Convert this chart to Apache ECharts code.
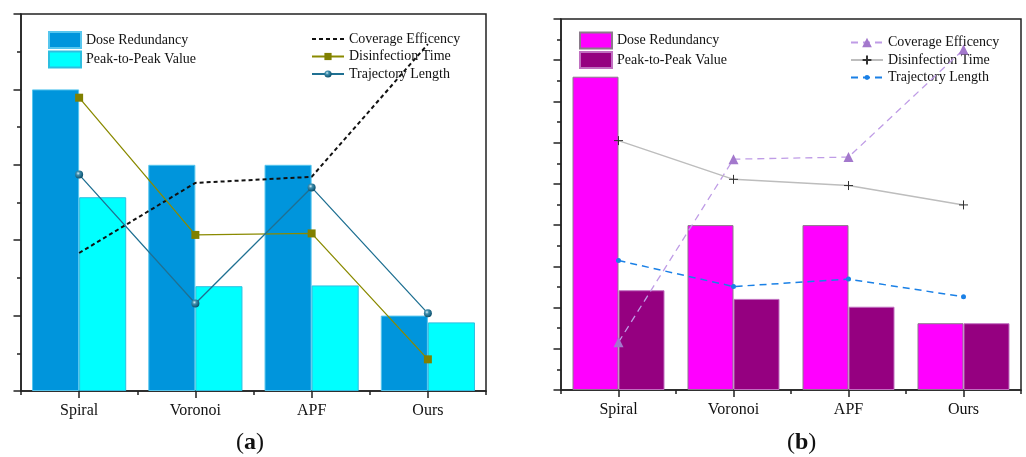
<!DOCTYPE html>
<html>
<head>
<meta charset="utf-8">
<script src="https://cdn.jsdelivr.net/npm/echarts@6/dist/echarts.min.js"></script>
<style>
  html, body { margin: 0; padding: 0; background: #fff; }
  #chart { width: 1026px; height: 457px; }
</style>
</head>
<body>
<div id="chart"></div>
<script>
// Methods compared on both panels
const categories = ['Spiral', 'Voronoi', 'APF', 'Ours'];

// Legend / series labels
const barLabels = ['Dose Redundancy', 'Peak-to-Peak Value'];
const lineLabels = ['Coverage Efficency', 'Disinfection Time', 'Trajectory Length'];
const panelTags = ['a', 'b'];

// Panel (a) values (axis units)
const aDoseRedundancy = [4.0, 3.0, 3.0, 1.0];
const aPeakToPeak = [2.57, 1.39, 1.40, 0.91];
const aCoverageEfficiency = [1.83, 2.76, 2.84, 4.60];
const aDisinfectionTime = [3.89, 2.07, 2.09, 0.42];
const aTrajectoryLength = [2.87, 1.16, 2.70, 1.03];

// Panel (b) values (axis units)
const bDoseRedundancy = [7.60, 4.00, 4.00, 1.62];
const bPeakToPeak = [2.42, 2.21, 2.02, 1.62];
const bCoverageEfficiency = [1.16, 5.60, 5.65, 8.26];
const bDisinfectionTime = [6.05, 5.11, 4.96, 4.49];
const bTrajectoryLength = [3.14, 2.51, 2.69, 2.26];

// Value-axis extents
const yMaxA = 5;
const yMaxB = 9;

const SERIF = 'Liberation Serif';
const INK = '#222';
const TEXT = '#111';

// Series names carry a panel prefix so the two legends stay independent.
const nm = (panel, label) => panel + ':' + label;
const stripName = n => n.slice(n.indexOf(':') + 1);

const axisLineStyle = { color: INK, width: 1.5 };

function xAxesFor(gridIndex) {
  return [
    {
      gridIndex, type: 'category', data: categories, position: 'bottom',
      axisLine: { show: true, lineStyle: axisLineStyle },
      axisTick: { show: true, alignWithLabel: true, length: 7, lineStyle: axisLineStyle },
      axisLabel: { fontFamily: SERIF, fontSize: 16, color: TEXT, margin: 12 },
      splitLine: { show: false }
    },
    {
      // short ticks on the category boundaries
      gridIndex, type: 'category', data: categories, position: 'bottom',
      axisLine: { show: false },
      axisTick: { show: true, length: 4, lineStyle: axisLineStyle },
      axisLabel: { show: false },
      splitLine: { show: false }
    }
  ];
}

function yAxisFor(gridIndex, max) {
  return {
    gridIndex, type: 'value', min: 0, max, interval: 1,
    axisLine: { show: true, lineStyle: axisLineStyle },
    axisTick: { show: true, length: 7.5, lineStyle: axisLineStyle },
    minorTick: { show: true, splitNumber: 2, length: 4, lineStyle: axisLineStyle },
    axisLabel: { show: false },
    splitLine: { show: false }
  };
}

const sphere = {
  type: 'radial', x: 0.38, y: 0.35, r: 0.65,
  colorStops: [
    { offset: 0, color: '#d8eef5' },
    { offset: 0.35, color: '#3f8fae' },
    { offset: 1, color: '#0c4f6c' }
  ]
};

const plusPath = 'path://M0,5H10M5,0V10';

const series = [
  // ---- panel (a)
  {
    name: nm('a', barLabels[0]), type: 'bar', xAxisIndex: 0, yAxisIndex: 0,
    data: aDoseRedundancy, barGap: '0%', barCategoryGap: '19%',
    itemStyle: { color: '#0095dc', borderColor: '#56c6ee', borderWidth: 1 }
  },
  {
    name: nm('a', barLabels[1]), type: 'bar', xAxisIndex: 0, yAxisIndex: 0,
    data: aPeakToPeak, barGap: '0%', barCategoryGap: '19%',
    itemStyle: { color: '#00ffff', borderColor: '#2cbfe0', borderWidth: 1 }
  },
  {
    name: nm('a', lineLabels[0]), type: 'line', xAxisIndex: 0, yAxisIndex: 0,
    data: aCoverageEfficiency, symbol: 'none',
    lineStyle: { color: '#111', width: 2, type: [4, 3] },
    itemStyle: { color: '#111' }, z: 4
  },
  {
    name: nm('a', lineLabels[1]), type: 'line', xAxisIndex: 0, yAxisIndex: 0,
    data: aDisinfectionTime, symbol: 'rect', symbolSize: 8,
    lineStyle: { color: '#8a8a00', width: 1.3 },
    itemStyle: { color: '#808000' }, z: 4
  },
  {
    name: nm('a', lineLabels[2]), type: 'line', xAxisIndex: 0, yAxisIndex: 0,
    data: aTrajectoryLength, symbol: 'circle', symbolSize: 8,
    lineStyle: { color: '#1f7092', width: 1.3 },
    itemStyle: { color: sphere }, z: 4
  },
  // ---- panel (b)
  {
    name: nm('b', barLabels[0]), type: 'bar', xAxisIndex: 2, yAxisIndex: 1,
    data: bDoseRedundancy, barGap: '0%', barCategoryGap: '20%',
    itemStyle: { color: '#ff00ff', borderColor: '#8a7a8a', borderWidth: 1 }
  },
  {
    name: nm('b', barLabels[1]), type: 'bar', xAxisIndex: 2, yAxisIndex: 1,
    data: bPeakToPeak, barGap: '0%', barCategoryGap: '20%',
    itemStyle: { color: '#950080', borderColor: '#c070c0', borderWidth: 1 }
  },
  {
    name: nm('b', lineLabels[0]), type: 'line', xAxisIndex: 2, yAxisIndex: 1,
    data: bCoverageEfficiency, symbol: 'triangle', symbolSize: 10,
    lineStyle: { color: '#bf9ce6', width: 1.3, type: [7, 5] },
    itemStyle: { color: '#a378cc' }, z: 4
  },
  {
    name: nm('b', lineLabels[1]), type: 'line', xAxisIndex: 2, yAxisIndex: 1,
    data: bDisinfectionTime, symbol: plusPath, symbolSize: 9,
    lineStyle: { color: '#bdbdbd', width: 1.5 },
    itemStyle: { color: 'rgba(0,0,0,0)', borderColor: '#333', borderWidth: 1 }, z: 4
  },
  {
    name: nm('b', lineLabels[2]), type: 'line', xAxisIndex: 2, yAxisIndex: 1,
    data: bTrajectoryLength, symbol: 'circle', symbolSize: 5,
    lineStyle: { color: '#1a80e6', width: 1.5, type: [7, 5] },
    itemStyle: { color: '#1a80e6' }, z: 4
  }
];

const legendText = { fontFamily: SERIF, fontSize: 14, color: TEXT, lineHeight: 16 };

function barLegend(panel, left, top) {
  return {
    orient: 'vertical', left, top, padding: 0, itemGap: 1.5,
    itemWidth: 32, itemHeight: 16, icon: 'rect', selectedMode: false,
    data: barLabels.map(l => nm(panel, l)),
    formatter: stripName, textStyle: legendText
  };
}

function lineLegend(items, left, top, itemHeight, itemGap) {
  return {
    orient: 'vertical', left, top, padding: 0, itemGap,
    itemWidth: 32, itemHeight, selectedMode: false,
    data: items, formatter: stripName,
    textStyle: Object.assign({}, legendText, { lineHeight: 17 })
  };
}

function panelTitle(tag, left) {
  return {
    text: '{p|(}{b|' + tag + '}{p|)}', left, top: 431, padding: 0,
    textStyle: {
      fontWeight: 'normal',
      rich: {
        p: { fontFamily: SERIF, fontSize: 24, fontWeight: 'normal', color: TEXT },
        b: { fontFamily: SERIF, fontSize: 24, fontWeight: 'bold', color: TEXT }
      }
    }
  };
}

const option = {
  animation: false,
  backgroundColor: '#fff',
  title: [panelTitle(panelTags[0], 236), panelTitle(panelTags[1], 787)],
  grid: [
    { left: 21, top: 14, width: 465, height: 377, show: true, borderColor: INK, borderWidth: 1.5, containLabel: false },
    { left: 561, top: 19, width: 460, height: 371, show: true, borderColor: INK, borderWidth: 1.5, containLabel: false }
  ],
  xAxis: [...xAxesFor(0), ...xAxesFor(1)],
  yAxis: [yAxisFor(0, yMaxA), yAxisFor(1, yMaxB)],
  legend: [
    barLegend('a', 48, 31),
    lineLegend([
      // the dashed coverage line has no marker, so its key shows the line only
      { name: nm('a', lineLabels[0]), itemStyle: { opacity: 0 } },
      nm('a', lineLabels[1]),
      nm('a', lineLabels[2])
    ], 311, 30.5, 9, 0.5),
    barLegend('b', 579, 31.5),
    lineLegend([nm('b', lineLabels[0])], 850, 34, 12, 0),
    lineLegend([nm('b', lineLabels[1])], 850, 51.5, 11, 0),
    lineLegend([nm('b', lineLabels[2])], 850, 69, 6, 0)
  ],
  series
};

const chart = echarts.init(document.getElementById('chart'), null, { renderer: 'canvas' });
chart.setOption(option);
</script>
</body>
</html>
